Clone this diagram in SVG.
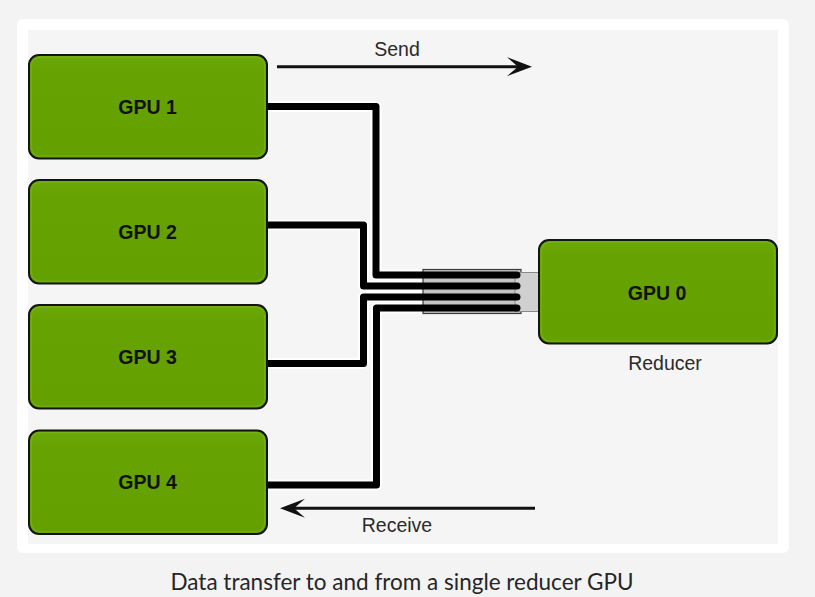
<svg xmlns="http://www.w3.org/2000/svg" width="815" height="597" viewBox="0 0 815 597">
  <style>
    .gpu rect.body { fill: url(#g); stroke: #141414; stroke-width: 2; }
    .gpu rect.hl { fill: none; stroke: #7fbf1a; stroke-width: 1.2; }
    .gpu text { font-family: "Liberation Sans", Arial, sans-serif; font-weight: bold; font-size: 19.5px; fill: #111; text-anchor: middle; }
    .lbl { font-family: "Liberation Sans", Arial, sans-serif; font-size: 19.5px; fill: #2a2a2a; text-anchor: middle; }
    .halo { fill: none; stroke: #ffffff; stroke-width: 11; stroke-linejoin: round; stroke-linecap: round; }
    .wire { fill: none; stroke: #000; stroke-width: 7; stroke-linejoin: round; stroke-linecap: round; }
    .flow { fill: none; stroke: #111; stroke-width: 3; marker-end: url(#arr); }
  </style>
  <defs>
    <linearGradient id="g" x1="0" y1="0" x2="0" y2="1">
      <stop offset="0" stop-color="#6aa80a"/>
      <stop offset="0.15" stop-color="#66a302"/>
      <stop offset="1" stop-color="#63a000"/>
    </linearGradient>
    <marker id="arr" viewBox="-26 -11 28 22" refX="-14" refY="0" markerWidth="28" markerHeight="22" orient="auto" markerUnits="userSpaceOnUse">
      <path d="M0,0 L-25,-9.5 L-14,0 L-25,9.5 Z" fill="#111"/>
    </marker>
  </defs>

  <rect x="0" y="0" width="815" height="597" fill="#f3f3f3"/>
  <rect x="17" y="19" width="772" height="534" rx="6" fill="#ffffff"/>
  <rect x="28" y="30" width="750" height="514" fill="#f5f5f5"/>

  <g id="connectors">
    <path class="halo" d="M260 106.5 H376 V275 H517"/>
    <path class="halo" d="M260 225 H363.5 V286 H517"/>
    <path class="halo" d="M260 363.5 H363.5 V297 H517"/>
    <path class="halo" d="M260 485 H376.5 V308 H517"/>
    <rect x="423" y="269.5" width="98" height="44" fill="#c4c4c4" stroke="#3a3a3a" stroke-width="1.2"/>
    <rect x="515" y="272.5" width="24" height="39" fill="#d0d0d0" stroke="#8a8a8a" stroke-width="1"/>
    <path class="wire" d="M260 106.5 H376 V275 H517"/>
    <path class="wire" d="M260 225 H363.5 V286 H517"/>
    <path class="wire" d="M260 363.5 H363.5 V297 H517"/>
    <path class="wire" d="M260 485 H376.5 V308 H517"/>
    <path class="flow" d="M277 66.7 H518"/>
    <path class="flow" d="M535 508.3 H294"/>
  </g>

  <g id="gpu1" class="gpu">
    <rect class="body" x="29" y="55" width="238" height="103.5" rx="10"/>
    <rect class="hl" x="31.5" y="57.2" width="233" height="99" rx="8.5" stroke-opacity="0.5"/>
    <text x="147.5" y="113.5">GPU 1</text>
  </g>
  <g id="gpu2" class="gpu">
    <rect class="body" x="29" y="180" width="238" height="103.5" rx="10"/>
    <rect class="hl" x="31.5" y="182.2" width="233" height="99" rx="8.5" stroke-opacity="0.5"/>
    <text x="147.5" y="238.5">GPU 2</text>
  </g>
  <g id="gpu3" class="gpu">
    <rect class="body" x="29" y="305" width="238" height="103.5" rx="10"/>
    <rect class="hl" x="31.5" y="307.2" width="233" height="99" rx="8.5" stroke-opacity="0.5"/>
    <text x="147.5" y="363.5">GPU 3</text>
  </g>
  <g id="gpu4" class="gpu">
    <rect class="body" x="29" y="430.5" width="238" height="103.5" rx="10"/>
    <rect class="hl" x="31.5" y="432.7" width="233" height="99" rx="8.5" stroke-opacity="0.5"/>
    <text x="147.5" y="489">GPU 4</text>
  </g>
  <g id="gpu0" class="gpu">
    <rect class="body" x="539" y="240" width="238" height="103.5" rx="10"/>
    <rect class="hl" x="541.5" y="242.2" width="233" height="99" rx="8.5" stroke-opacity="0.5"/>
    <text x="657" y="299.5">GPU 0</text>
  </g>

  <text class="lbl" x="397" y="56">Send</text>
  <text class="lbl" x="397" y="532">Receive</text>
  <text class="lbl" x="665" y="370">Reducer</text>

  <text x="402" y="590" font-family="Lato, 'Open Sans', sans-serif" font-size="22.5" fill="#262626" text-anchor="middle">Data transfer to and from a single reducer GPU</text>
</svg>
